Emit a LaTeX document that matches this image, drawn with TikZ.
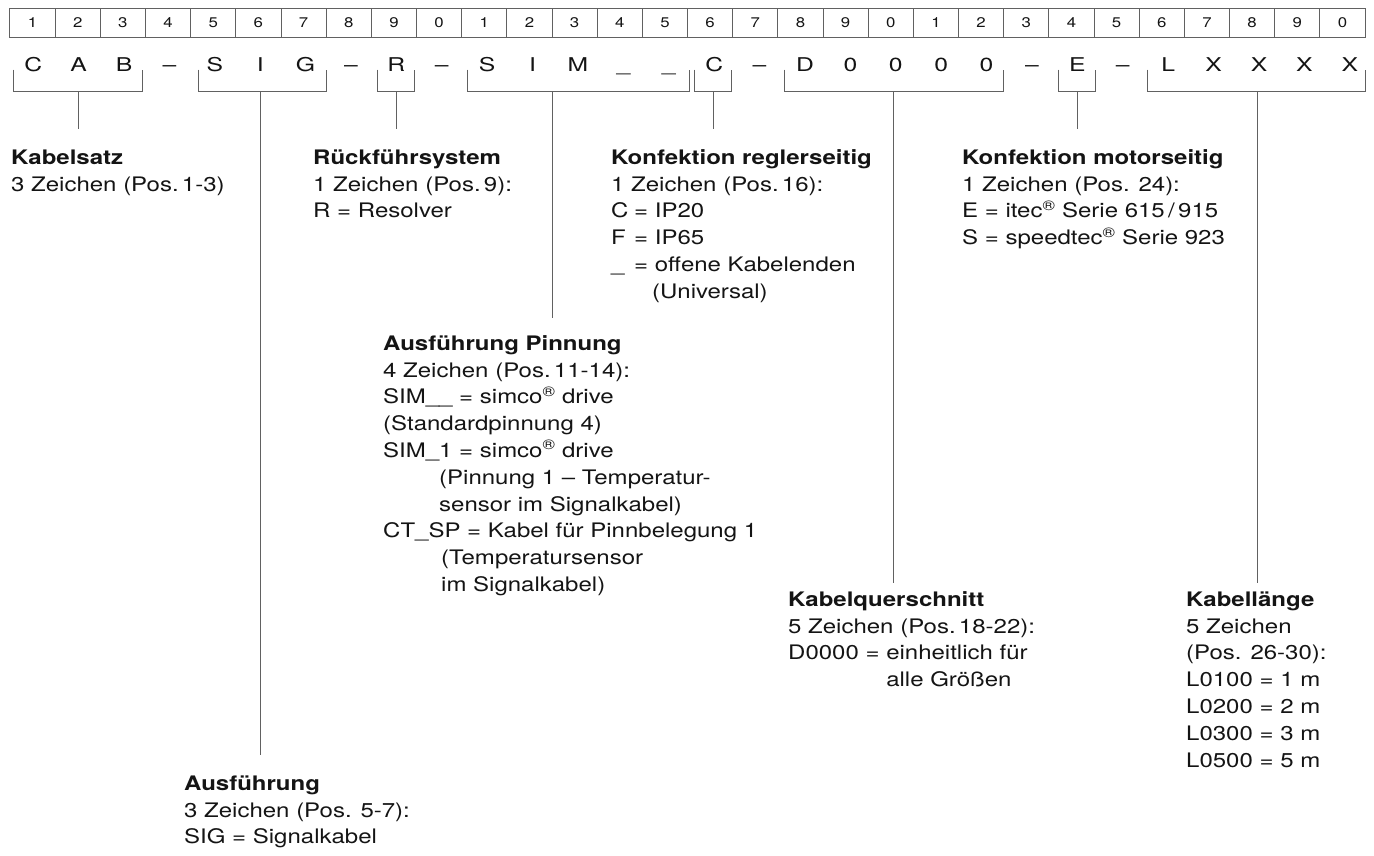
\documentclass[tikz,border=0pt]{standalone}
\usepackage{fontspec}
\setmainfont{TeX Gyre Heros}[FakeStretch=1.2]
\newfontfamily\codefont{TeX Gyre Heros}[FakeStretch=1.3]
\newcommand\regmark{\textsuperscript{®}}
\definecolor{lc}{rgb}{0.38,0.38,0.38}
\definecolor{tc}{rgb}{0.08,0.08,0.08}
\begin{document}
\begin{tikzpicture}[x=1pt,y=-1pt,
  cell/.style={draw=lc,line width=1pt,minimum width=45.17pt,minimum height=29pt,inner sep=0pt,
    font=\fontsize{14}{16}\selectfont,text=tc},
  code/.style={anchor=base,inner sep=0pt,font=\codefont\fontsize{19}{22}\selectfont,text=tc},
  brk/.style={draw=lc,line width=1pt},
  stem/.style={draw=lc,line width=1pt},
  blk/.style={anchor=north west,inner sep=0pt,align=left,text=tc,
    font=\fontsize{20}{26.8}\selectfont},
]
\useasboundingbox (0,0) rectangle (1374,855);
% numbered cells
\foreach \i in {1,...,30}{
  \pgfmathtruncatemacro\d{mod(\i,10)}
  \pgfmathsetmacro\cx{10+45.1667*(\i-0.5)}
  \node[cell] (c\i) at (\cx,22.8) {\d};
}
% code letters
\foreach \ch [count=\i] in {C,A,B,–,S,I,G,–,R,–,S,I,M,\_,\_,C,–,D,0,0,0,0,–,E,–,L,X,X,X,X}{
  \pgfmathsetmacro\lx{10.5+45.4*(\i-0.5)}
  \node[code] (l\i) at (\lx,71) {\ch};
}
% brackets and stems
\foreach \nm/\l/\r/\sx/\se in {cab/13/142/78/129, sig/198/326/260/755, rs/377/414/396/129,
   sim/467/689/552/318, cc/694/731/713/129, dd/784/1003/893/583, ee/1058/1095/1077/129,
   ll/1147/1365/1257/583}{
  \draw[brk] (\l,69.5) -- (\l,91) -- (\r,91) -- (\r,69.5);
  \coordinate (\nm top) at (\sx,91);
  \coordinate (\nm end) at (\sx,\se);
  \draw[stem] (\nm top) -- (\nm end);
}
% text blocks
\node[blk] (kabelsatz) at (11,148) {\rule{0pt}{16pt}\textbf{Kabelsatz}\\3 Zeichen (Pos.\,1-3)};
\node[blk] (rueck) at (313,148) {\rule{0pt}{16pt}\textbf{Rückführsystem}\\1 Zeichen (Pos.\,9):\\R = Resolver};
\node[blk] (konfr) at (611,148) {\rule{0pt}{16pt}\textbf{Konfektion reglerseitig}\\1 Zeichen (Pos.\,16):\\
  \makebox[23pt][l]{C}= IP20\\\makebox[23pt][l]{F}= IP65\\\makebox[23pt][l]{\_}= offene Kabelenden\\
  \hspace*{41pt}(Universal)};
\node[blk] (konfm) at (962,148) {\rule{0pt}{16pt}\textbf{Konfektion motorseitig}\\1 Zeichen (Pos. 24):\\
  E = itec\regmark{} Serie 615\,/\,915\\S = speedtec\regmark{} Serie 923};
\node[blk] (pinn) at (383,334) {\rule{0pt}{16pt}\textbf{Ausführung Pinnung}\\4 Zeichen (Pos.\,11-14):\\
  SIM\_\_ = simco\regmark{} drive\\(Standardpinnung 4)\\SIM\_1 = simco\regmark{} drive\\
  \hspace*{56pt}(Pinnung 1 – Temperatur-\\\hspace*{56pt}sensor im Signalkabel)\\
  CT\_SP = Kabel für Pinnbelegung 1\\\hspace*{58pt}(Temperatursensor\\\hspace*{58pt}im Signalkabel)};
\node[blk] (quer) at (788,590) {\rule{0pt}{16pt}\textbf{Kabelquerschnitt}\\5 Zeichen (Pos.\,18-22):\\
  D0000 = einheitlich für\\\phantom{D0000 = }alle Größen};
\node[blk] (laenge) at (1186,590) {\rule{0pt}{16pt}\textbf{Kabellänge}\\5 Zeichen\\(Pos. 26-30):\\
  L0100 = 1 m\\L0200 = 2 m\\L0300 = 3 m\\L0500 = 5 m};
\node[blk] (ausf) at (184,774) {\rule{0pt}{16pt}\textbf{Ausführung}\\3 Zeichen (Pos. 5-7):\\SIG = Signalkabel};
\end{tikzpicture}
\end{document}
